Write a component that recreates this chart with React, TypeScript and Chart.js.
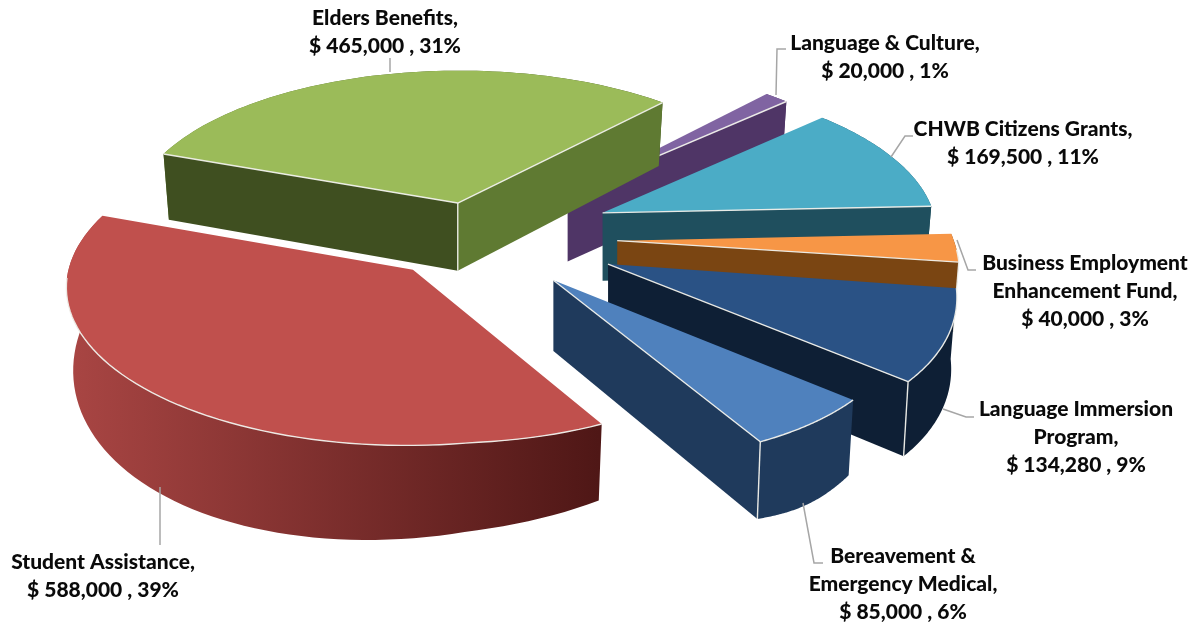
import React, { useEffect, useRef } from "react";
import { Chart, registerables } from "chart.js";

Chart.register(...registerables);

const categories = [
  "Language & Culture",
  "CHWB Citizens Grants",
  "Business Employment Enhancement Fund",
  "Language Immersion Program",
  "Bereavement & Emergency Medical",
  "Student Assistance",
  "Elders Benefits",
];
const amounts = [20000, 169500, 40000, 134280, 85000, 588000, 465000];
const nameLines = [
  ["Language & Culture,"],
  ["CHWB Citizens Grants,"],
  ["Business Employment", "Enhancement Fund,"],
  ["Language Immersion", "Program,"],
  ["Bereavement &", "Emergency Medical,"],
  ["Student Assistance,"],
  ["Elders Benefits,"],
];

const topColors = ["#8064a2", "#4bacc6", "#f79646", "#2a5285", "#4f81bd", "#c0504d", "#9bbb59"];
const startWall = ["#4f3566", "#1f4f5e", "#7a4512", "#0e1f35", "#1f3a5c", "#5a1a18", "#3f4f20"];
const endWall = ["#4f3566", "#1f4f5e", "#7a4512", "#0e1f35", "#1f3a5c", "#5a1a18", "#5f7a32"];
const outerFrom = ["#4f3566", "#1f4f5e", "#7a4512", "#0e1f35", "#1f3a5c", "#a84543", "#5f7a32"];
const outerTo = ["#4f3566", "#1f4f5e", "#7a4512", "#0e1f35", "#1f3a5c", "#4f1716", "#3f4f20"];
const explode = [145, 145, 146, 150, 128, 90, 74];
const radiusScale = [1, 1, 1, 1, 1, 1.006, 0.985];
const nudgeX = [-1, 1, 1, -3, -3, 2, 5];
const nudgeY = [5, 3, 3, 1, -1, 3, 0];
const bulge = [0, 0, 0, 0, 4, 22, 0];

const labelCenters = [
  { x: 885, y: 43 },
  { x: 1023, y: 129 },
  { x: 1085, y: 263 },
  { x: 1076, y: 409 },
  { x: 903, y: 556 },
  { x: 103, y: 562 },
  { x: 385, y: 18 },
];
const leaders = [
  [[786, 49], [777, 49], [776, 95]],
  [[913, 136], [905, 136], [891, 157]],
  [[976, 270], [968, 270], [957, 240]],
  [[974, 417], [966, 417], [943, 409]],
  [[823, 563], [814, 563], [803, 503]],
  [[160, 545], [160, 487]],
  [[390, 58], [390, 72]],
];

const SQUASH = 0.453;
const PERSPECTIVE = 0.092;
const WARP_X = 0.0001;
const WARP_Y = 0.00012;
const CONVERGE = 0.00025;
const DEPTH = 69;
const EDGE = "rgba(240,240,235,0.95)";

const pie3d = {
  id: "pie3d",
  beforeDatasetsDraw(chart: any) {
    const ctx: CanvasRenderingContext2D = chart.ctx;
    const arcs = chart.getDatasetMeta(0).data;
    const total = amounts.reduce((a, b) => a + b, 0);

    arcs.forEach((arc: any, i: number) => {
      const { x: cx, y: cy, startAngle, endAngle, outerRadius } = arc.getProps(
        ["x", "y", "startAngle", "endAngle", "outerRadius"],
        true
      );
      const R = outerRadius * radiusScale[i];
      const mid = (startAngle + endAngle) / 2;
      const ox = explode[i] * Math.cos(mid);
      const oy = explode[i] * Math.sin(mid);
      const proj = (r: number, t: number, h: number) => {
        const X = ox + r * Math.cos(t);
        const Y = oy + r * Math.sin(t);
        const w = 1 - (PERSPECTIVE * Y) / outerRadius;
        const q = Math.max(X, 0) * Math.max(Y, 0);
        return [
          cx + nudgeX[i] + X / w + WARP_X * q - CONVERGE * (X - ox) * h,
          cy + nudgeY[i] + (SQUASH * Y) / w + h / w + WARP_Y * q,
        ];
      };
      const N = 72;
      const ts: number[] = [];
      for (let k = 0; k <= N; k++) ts.push(startAngle + ((endAngle - startAngle) * k) / N);
      const topArc = ts.map((t) => proj(R, t, 0));
      const botArc = ts.map((t, k) => proj(R, t, DEPTH + bulge[i] * Math.sin((Math.PI * k) / N)));
      const A = proj(0, 0, 0);
      const Ab = proj(0, 0, DEPTH);
      const poly = (pts: number[][], fill: any) => {
        ctx.beginPath();
        pts.forEach((p, k) => (k ? ctx.lineTo(p[0], p[1]) : ctx.moveTo(p[0], p[1])));
        ctx.closePath();
        ctx.fillStyle = fill;
        ctx.fill();
      };
      const line = (pts: number[][]) => {
        ctx.beginPath();
        pts.forEach((p, k) => (k ? ctx.lineTo(p[0], p[1]) : ctx.moveTo(p[0], p[1])));
        ctx.strokeStyle = EDGE;
        ctx.lineWidth = 1.4;
        ctx.stroke();
      };
      const inner = topArc[N >> 1];
      const visible = (E: number[]) => {
        const side = (P: number[]) => (E[0] - A[0]) * (P[1] - A[1]) - (E[1] - A[1]) * (P[0] - A[0]);
        return side(Ab) * side(inner) < 0;
      };

      const minX = Math.min(...botArc.map((p) => p[0]));
      const maxX = Math.max(...botArc.map((p) => p[0]));
      const g = ctx.createLinearGradient(minX, 0, maxX, 0);
      g.addColorStop(0, outerFrom[i]);
      g.addColorStop(1, outerTo[i]);
      poly([...topArc, ...[...botArc].reverse()], g);

      const S = topArc[0];
      const E = topArc[N];
      const showS = visible(S);
      const showE = visible(E);
      if (showS) poly([A, S, botArc[0], Ab], startWall[i]);
      if (showE) poly([A, E, botArc[N], Ab], endWall[i]);

      poly([A, ...topArc], topColors[i]);

      if (showS) line([A, S]);
      if (showE) line([A, E]);
      if (showS && showE) line([A, Ab]);
      const run: number[][] = [];
      ts.forEach((t, k) => {
        if (Math.sin(t) > 0.05) run.push(topArc[k]);
      });
      if (run.length > 1) line(run);
      if (showS && Math.sin(startAngle) > 0) line([S, botArc[0]]);
      if (showE && Math.sin(endAngle) > 0) line([E, botArc[N]]);
    });

    ctx.strokeStyle = "#a6a6a6";
    ctx.lineWidth = 1.5;
    leaders.forEach((pts) => {
      ctx.beginPath();
      pts.forEach((p, k) => (k ? ctx.lineTo(p[0], p[1]) : ctx.moveTo(p[0], p[1])));
      ctx.stroke();
    });

    ctx.fillStyle = "#0a0a0a";
    ctx.font = "900 21px Lato";
    ctx.textAlign = "center";
    ctx.textBaseline = "middle";
    amounts.forEach((v, i) => {
      const pct = Math.round((v / total) * 100);
      const lines = [...nameLines[i], `$ ${v.toLocaleString("en-US")} , ${pct}%`];
      lines.forEach((s, k) => ctx.fillText(s, labelCenters[i].x, labelCenters[i].y + k * 28));
    });
    return false;
  },
};

export default function App() {
  const ref = useRef<HTMLCanvasElement>(null);
  useEffect(() => {
    const chart = new Chart(ref.current!, {
      type: "pie",
      data: {
        labels: categories,
        datasets: [{ data: amounts, backgroundColor: topColors, borderWidth: 0 }],
      },
      options: {
        animation: false,
        responsive: false,
        rotation: 42,
        radius: 336,
        layout: { padding: { left: 0, top: 0, right: 256, bottom: 158 } },
        plugins: { legend: { display: false }, tooltip: { enabled: false } },
      },
      plugins: [pie3d],
    } as any);
    return () => chart.destroy();
  }, []);
  return (
    <div style={{ position: "fixed", left: 0, top: 0, width: 1196, height: 628, background: "#fff" }}>
      <canvas ref={ref} width={1196} height={628} style={{ display: "block" }} />
    </div>
  );
}
